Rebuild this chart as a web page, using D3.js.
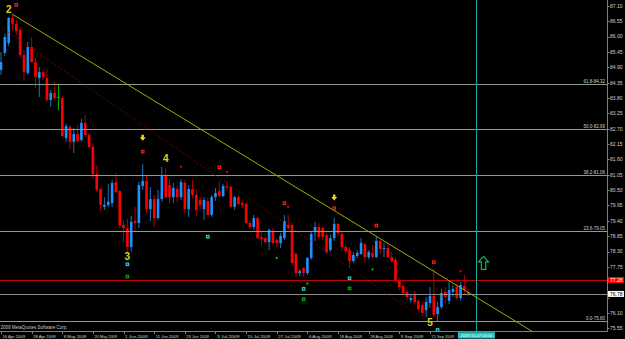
<!DOCTYPE html>
<html>
<head>
<meta charset="utf-8">
<script src="https://cdn.jsdelivr.net/npm/d3@7"></script>
<style>
  html, body { margin: 0; padding: 0; background: #000; }
  svg { display: block; font-family: "Liberation Sans", Arial, sans-serif; }
</style>
</head>
<body>
<div id="chart"></div>
<script>
// daily candles, 16 Apr 2009 .. 5 Oct 2009
const opens = [
  84.81, 85.42, 85.77, 86.67, 86.46, 86.24, 85.34, 84.70, 85.63, 85.09,
  84.52, 84.73, 84.52, 83.73, 83.98, 83.84, 83.80, 82.37, 82.76, 82.23,
  82.51, 82.30, 82.91, 82.48, 82.05, 81.08, 80.54, 79.90, 79.97, 80.04,
  80.79, 80.47, 79.25, 79.14, 78.46, 79.39, 79.32, 80.65, 80.83, 79.82,
  80.18, 79.50, 80.18, 81.04, 80.68, 80.25, 80.54, 80.25, 80.76, 79.82,
  80.54, 80.33, 80.15, 79.82, 80.11, 79.61, 80.25, 80.47, 80.29, 80.65,
  80.61, 79.90, 80.25, 80.04, 80.00, 79.32, 79.18, 79.50, 78.82, 78.78,
  78.64, 79.04, 78.71, 78.60, 78.78, 79.25, 79.25, 78.21, 77.53, 77.71,
  77.53, 78.07, 79.00, 79.18, 79.14, 78.89, 78.35, 78.78, 79.29, 78.93,
  78.46, 78.35, 77.96, 78.14, 78.21, 78.57, 78.10, 78.25, 78.10, 78.68,
  78.39, 78.43, 78.10, 78.00, 77.28, 77.06, 76.85, 76.56, 76.74, 76.53,
  76.38, 76.20, 76.46, 76.71, 76.06, 76.31, 76.85, 76.53, 76.85, 77.03,
  76.63, 77.06, 76.85,
];
const highs = [
  85.45, 86.10, 86.71, 86.81, 86.60, 86.35, 85.52, 85.81, 85.99, 85.24,
  84.91, 84.81, 84.84, 84.09, 84.38, 84.30, 83.87, 82.87, 82.84, 82.73,
  82.84, 83.05, 83.19, 82.55, 82.19, 81.40, 80.58, 80.25, 80.72, 80.86,
  81.11, 80.51, 79.43, 79.47, 79.57, 79.90, 80.79, 81.44, 81.04, 80.61,
  80.33, 80.51, 81.33, 81.29, 80.90, 80.76, 80.68, 80.90, 80.86, 80.68,
  80.86, 80.51, 80.25, 80.25, 80.22, 80.33, 80.58, 80.83, 80.72, 80.83,
  80.65, 80.29, 80.33, 80.15, 80.04, 79.43, 79.61, 79.54, 79.00, 78.82,
  79.14, 79.14, 78.78, 78.96, 79.61, 79.61, 79.32, 78.25, 77.67, 77.74,
  78.10, 79.00, 79.36, 79.32, 79.22, 78.96, 78.89, 79.50, 79.32, 79.00,
  78.53, 78.46, 78.28, 78.35, 78.78, 78.61, 78.35, 78.53, 78.82, 78.71,
  78.61, 78.61, 78.28, 78.07, 77.35, 77.14, 76.92, 76.74, 76.89, 76.60,
  76.49, 76.67, 77.03, 77.67, 76.49, 76.96, 77.03, 77.24, 77.10, 77.14,
  77.21, 77.46, 76.96,
];
const lows = [
  84.63, 85.31, 85.67, 86.24, 86.06, 85.27, 84.41, 84.63, 85.06, 84.16,
  83.84, 84.45, 83.66, 83.48, 83.73, 83.37, 82.41, 82.23, 81.98, 81.83,
  82.19, 82.23, 82.41, 82.01, 80.90, 80.43, 79.75, 79.79, 79.90, 79.90,
  80.40, 79.14, 78.64, 78.28, 78.28, 79.00, 79.14, 80.51, 79.65, 79.39,
  79.18, 79.43, 80.08, 80.22, 80.04, 80.04, 80.08, 80.15, 79.68, 79.54,
  80.22, 79.57, 79.79, 79.43, 79.57, 79.54, 80.11, 80.25, 80.25, 80.51,
  79.86, 79.79, 79.97, 79.86, 79.29, 79.11, 79.07, 78.75, 78.53, 78.60,
  78.35, 78.57, 78.46, 78.43, 78.71, 79.07, 77.82, 77.39, 77.42, 77.39,
  77.46, 78.00, 78.68, 78.75, 78.71, 78.21, 78.28, 78.68, 78.86, 78.35,
  78.25, 77.71, 77.89, 78.07, 78.18, 77.89, 78.03, 78.07, 78.07, 78.21,
  78.10, 78.07, 77.89, 77.24, 76.92, 76.74, 76.56, 76.46, 76.38, 76.17,
  75.99, 75.95, 76.28, 75.95, 75.77, 76.24, 76.42, 76.42, 76.67, 76.56,
  76.53, 76.74, 76.71,
];
const closes = [
  85.09, 85.99, 86.67, 86.46, 86.20, 85.34, 84.73, 85.63, 85.09, 84.56,
  84.73, 84.56, 83.73, 83.98, 83.80, 83.84, 82.44, 82.80, 82.23, 82.51,
  82.26, 82.91, 82.48, 82.05, 81.08, 80.51, 79.97, 79.97, 80.08, 80.76,
  80.43, 79.25, 79.14, 78.46, 79.36, 79.32, 80.68, 80.83, 79.82, 80.18,
  79.50, 80.18, 81.04, 80.25, 80.25, 80.58, 80.25, 80.79, 79.82, 80.54,
  80.33, 79.79, 79.97, 80.15, 79.61, 80.25, 80.40, 80.29, 80.65, 80.60,
  79.90, 80.25, 80.00, 79.97, 79.32, 79.18, 79.50, 78.78, 78.75, 78.64,
  79.07, 78.60, 78.60, 78.86, 79.39, 79.14, 77.89, 77.53, 77.60, 77.53,
  78.07, 78.93, 79.18, 78.82, 78.82, 78.28, 78.78, 79.29, 78.96, 78.46,
  78.32, 77.96, 78.18, 78.25, 78.61, 78.10, 78.28, 78.10, 78.68, 78.39,
  78.43, 78.10, 77.96, 77.28, 77.03, 76.81, 76.67, 76.63, 76.49, 76.24,
  76.10, 76.49, 76.71, 76.03, 76.31, 76.81, 76.67, 76.92, 76.96, 76.63,
  77.10, 76.92, 76.78,
];

// price scale labels
const priceTicks = [
  87.10, 86.55, 86.00, 85.45, 84.90, 84.35, 83.80, 83.25, 82.70, 82.15, 81.60,
  81.05, 80.50, 79.95, 79.40, 78.85, 78.30, 77.75, 77.20, 76.65, 76.10, 75.55,
];

// chart objects: [bar index, price]
const fibLevels = [0.0, 23.6, 38.2, 50.0, 61.8];
const fibPrices = [75.80, 79.05, 81.06, 82.69, 84.32];
const resistancePrice = 77.28;
const trendLine = [[3, 86.80], [118, 77.17]];
const channelLine = [[0.18, 86.32], [110.7, 75.85]];
const redCrosses = [[4, 87.14], [37, 81.88], [57, 81.32], [74, 80.03], [87, 79.85], [98, 79.23], [113, 77.92]];
const redDots = [[47, 81.34], [59, 81.16], [75, 79.9], [88, 79.68], [120, 77.59]];
const cyanMarks = [[33, 77.84], [54, 78.83], [79, 76.96], [91, 77.34], [114, 75.49]];
const greenMarks = [[33, 77.4], [79, 76.59], [91, 76.98]];
const greenDots = [[72, 78.07], [80, 77.15], [97, 77.66]];
const downArrows = [[37, 82.38], [87, 80.24]];
const waveLabels = [['2', 2, 86.97], ['3', 33, 78.11], ['4', 43, 81.62], ['5', 112, 75.75]];
const upArrow = [126, 77.89];
const eventDate = new Date(2009, 9, 7);

const width = 625;
const height = 339;
const plotRight = 607;
const plotBottom = 331;
const barStep = 3.83;
const bodyW = 2.6;

// trading days (Mon-Fri) from the first bar onward
const days = d3.timeDay
  .range(new Date(2009, 3, 16), new Date(2009, 11, 1))
  .filter((d) => d.getDay() % 6 !== 0);
const fmtDay = d3.timeFormat('%-d %b %Y');
const fmtEvent = d3.timeFormat('%Y.%m.%d %H:%M');
const eventIndex = days.findIndex((d) => +d === +eventDate);

const x = d3.scaleLinear().domain([0, 100]).range([1, 1 + 100 * barStep]);
const y = d3.scaleLinear().domain([87.1, 75.55]).range([6, 6 + 11.55 * 27.9]);

const svg = d3
  .select('#chart')
  .append('svg')
  .attr('width', width)
  .attr('height', height);

svg.append('rect').attr('width', width).attr('height', height).attr('fill', '#000');

svg
  .append('defs')
  .append('clipPath')
  .attr('id', 'plot-clip')
  .append('rect')
  .attr('width', plotRight)
  .attr('height', plotBottom);

const plot = svg.append('g').attr('clip-path', 'url(#plot-clip)');

// candles
const bars = opens.map((o, i) => ({ i, o, h: highs[i], l: lows[i], c: closes[i] }));
const kind = (d) => (d.c > d.o ? 'up' : d.c < d.o ? 'down' : 'doji');
const wickColor = { up: '#2080c8', down: '#c00000', doji: '#00c800' };
const bodyColor = { up: '#1e90ff', down: '#ff0000', doji: '#00c800' };

plot
  .selectAll('line.wick')
  .data(bars)
  .join('line')
  .attr('class', 'wick')
  .attr('x1', (d) => x(d.i))
  .attr('x2', (d) => x(d.i))
  .attr('y1', (d) => y(d.h))
  .attr('y2', (d) => y(d.l))
  .attr('stroke', (d) => wickColor[kind(d)])
  .attr('stroke-width', 0.9);

plot
  .selectAll('rect.body')
  .data(bars)
  .join('rect')
  .attr('class', 'body')
  .attr('x', (d) => x(d.i) - bodyW / 2)
  .attr('width', bodyW)
  .attr('y', (d) => y(Math.max(d.o, d.c)))
  .attr('height', (d) => Math.max(0.9, Math.abs(y(d.o) - y(d.c))))
  .attr('fill', (d) => bodyColor[kind(d)]);

// fibonacci levels
plot
  .selectAll('line.fib')
  .data(fibPrices)
  .join('line')
  .attr('class', 'fib')
  .attr('x1', 0)
  .attr('x2', plotRight)
  .attr('y1', (p) => Math.round(y(p)) + 0.5)
  .attr('y2', (p) => Math.round(y(p)) + 0.5)
  .attr('stroke', '#8e9c8e')
  .attr('stroke-width', 1);

plot
  .selectAll('text.fib')
  .data(fibPrices)
  .join('text')
  .attr('class', 'fib')
  .attr('x', plotRight - 2)
  .attr('y', (p) => Math.round(y(p)) - 0.8)
  .attr('text-anchor', 'end')
  .attr('font-size', 4.5)
  .attr('fill', '#d0d0d0')
  .text((p, k) => `${fibLevels[k].toFixed(1)}-${p.toFixed(2)}`);

// horizontal resistance and bid line
plot
  .append('line')
  .attr('x1', 0)
  .attr('x2', plotRight)
  .attr('y1', Math.round(y(resistancePrice)) + 0.5)
  .attr('y2', Math.round(y(resistancePrice)) + 0.5)
  .attr('stroke', '#c00000');

const lastClose = closes[closes.length - 1];
plot
  .append('line')
  .attr('x1', 0)
  .attr('x2', plotRight)
  .attr('y1', Math.round(y(lastClose)) + 0.5)
  .attr('y2', Math.round(y(lastClose)) + 0.5)
  .attr('stroke', '#8a8a8a');

// event vertical line
plot
  .append('line')
  .attr('x1', Math.round(x(eventIndex)) + 0.5)
  .attr('x2', Math.round(x(eventIndex)) + 0.5)
  .attr('y1', 0)
  .attr('y2', plotBottom)
  .attr('stroke', '#18a8a8');

// trend line (ray) and dotted channel line
const [[ti0, tp0], [ti1, tp1]] = trendLine;
const rayEnd = 170;
const rayPrice = tp0 + ((tp1 - tp0) / (ti1 - ti0)) * (rayEnd - ti0);
plot
  .append('line')
  .attr('x1', x(ti0))
  .attr('y1', y(tp0))
  .attr('x2', x(rayEnd))
  .attr('y2', y(rayPrice))
  .attr('stroke', '#a8a800')
  .attr('stroke-width', 1);

plot
  .append('line')
  .attr('x1', x(channelLine[0][0]))
  .attr('y1', y(channelLine[0][1]))
  .attr('x2', x(channelLine[1][0]))
  .attr('y2', y(channelLine[1][1]))
  .attr('stroke', '#a00000')
  .attr('stroke-width', 1)
  .attr('stroke-dasharray', '1.2,2.4');

// signal markers
function squares(data, size, fill, stroke) {
  plot
    .append('g')
    .selectAll('rect')
    .data(data)
    .join('rect')
    .attr('x', (d) => x(d[0]) - size / 2)
    .attr('y', (d) => y(d[1]) - size / 2)
    .attr('width', size)
    .attr('height', size)
    .attr('fill', fill)
    .attr('stroke', stroke || 'none')
    .attr('stroke-width', 1);
}
squares(redCrosses, 2.6, '#500000', '#ff2020');
squares(redDots, 2, '#e00000');
squares(cyanMarks, 2.6, '#104040', '#30d8d8');
squares(greenMarks, 2.6, '#003000', '#00b800');
squares(greenDots, 2, '#00c000');

// yellow down arrows
plot
  .append('g')
  .selectAll('path')
  .data(downArrows)
  .join('path')
  .attr('transform', (d) => `translate(${x(d[0])},${y(d[1])})`)
  .attr('d', 'M-1.2,-3L1.2,-3L1.2,-0.4L3,-0.4L0,3L-3,-0.4L-1.2,-0.4Z')
  .attr('fill', '#f0d820');

// hollow green up arrow
plot
  .append('path')
  .attr('transform', `translate(${x(upArrow[0])},${y(upArrow[1])})`)
  .attr('d', 'M0,-6.5L5,-1L2.2,-1L2.2,6.5L-2.2,6.5L-2.2,-1L-5,-1Z')
  .attr('fill', 'none')
  .attr('stroke', '#00c050')
  .attr('stroke-width', 1.2);

// wave counts
plot
  .append('g')
  .selectAll('text')
  .data(waveLabels)
  .join('text')
  .attr('x', (d) => x(d[1]))
  .attr('y', (d) => y(d[2]))
  .attr('dy', '0.36em')
  .attr('text-anchor', 'middle')
  .attr('font-size', 10)
  .attr('font-weight', 'bold')
  .attr('fill', '#e0d020')
  .text((d) => d[0]);

// copyright
svg
  .append('text')
  .attr('x', 0.5)
  .attr('y', 328.8)
  .attr('font-size', 4.5)
  .attr('fill', '#c8c8c8')
  .text('2009 MetaQuotes Software Corp.');

// axes frame
svg
  .append('path')
  .attr('d', `M0,${plotBottom + 0.5}H${plotRight + 0.5}V0`)
  .attr('fill', 'none')
  .attr('stroke', '#808080');

// price axis (labels under the price tags are hidden, as in the terminal)
const tagPrices = [resistancePrice, lastClose];
const freeTicks = priceTicks.filter((p) => tagPrices.every((t) => Math.abs(y(p) - y(t)) > 5.5));
const yAxis = svg.append('g');
yAxis
  .selectAll('line')
  .data(priceTicks)
  .join('line')
  .attr('x1', plotRight)
  .attr('x2', plotRight + 2.5)
  .attr('y1', (p) => Math.round(y(p)) + 0.5)
  .attr('y2', (p) => Math.round(y(p)) + 0.5)
  .attr('stroke', '#808080');
yAxis
  .selectAll('text')
  .data(freeTicks)
  .join('text')
  .attr('x', plotRight + 3)
  .attr('y', (p) => y(p))
  .attr('dy', '0.36em')
  .attr('font-size', 5)
  .attr('fill', '#d0d0d0')
  .text((p) => p.toFixed(2));

// price labels on the axis
function axisTag(price, bg, fg) {
  const g = svg.append('g').attr('transform', `translate(${plotRight + 1},${y(price)})`);
  g.append('rect').attr('x', 0).attr('y', -3).attr('width', 16).attr('height', 6).attr('fill', bg);
  g.append('text')
    .attr('x', 2)
    .attr('dy', '0.36em')
    .attr('font-size', 5)
    .attr('fill', fg)
    .text(price.toFixed(2));
}
axisTag(resistancePrice, '#ff0000', '#ffffff');
axisTag(lastClose, '#ffffff', '#000000');

// time axis: every 8th bar, skipping labels hidden by the event tag
const ex = x(eventIndex);
const timeTicks = d3.range(0, opens.length, 8).filter((i) => x(i) + 25 < ex - 18);
const xAxis = svg.append('g');
xAxis
  .selectAll('line')
  .data(timeTicks)
  .join('line')
  .attr('x1', (i) => Math.round(x(i)) + 0.5)
  .attr('x2', (i) => Math.round(x(i)) + 0.5)
  .attr('y1', plotBottom)
  .attr('y2', plotBottom + 3)
  .attr('stroke', '#808080');
xAxis
  .selectAll('text')
  .data(timeTicks)
  .join('text')
  .attr('x', (i) => x(i) + 1.5)
  .attr('y', 337.5)
  .attr('font-size', 4.2)
  .attr('fill', '#d0d0d0')
  .attr('textLength', 22.5)
  .attr('lengthAdjust', 'spacingAndGlyphs')
  .text((i) => fmtDay(days[i]));

// event date tag
svg
  .append('rect')
  .attr('x', ex - 18)
  .attr('y', plotBottom + 1.2)
  .attr('width', 37)
  .attr('height', 6.3)
  .attr('fill', '#20c4c4');
svg
  .append('text')
  .attr('x', ex - 15.5)
  .attr('y', 337.3)
  .attr('font-size', 4.2)
  .attr('fill', '#ffffff')
  .attr('textLength', 32)
  .attr('lengthAdjust', 'spacingAndGlyphs')
  .text(fmtEvent(eventDate));
</script>
</body>
</html>
